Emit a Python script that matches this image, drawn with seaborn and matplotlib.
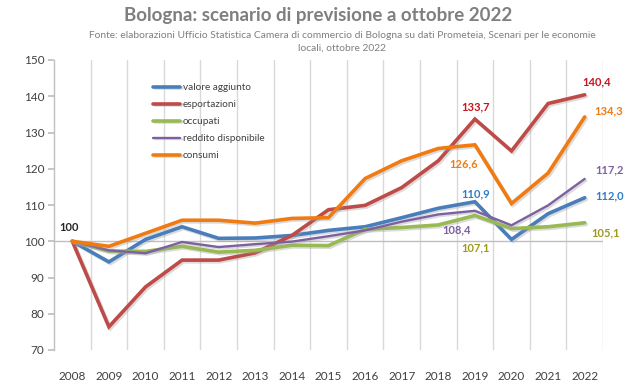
import pandas as pd
import matplotlib.pyplot as plt
import matplotlib.patheffects as pe
from matplotlib.ticker import FixedLocator
import seaborn as sns

# Data (index 2008 = 100)
anni = list(range(2008, 2023))
valore_aggiunto = [100, 94.3, 100.5, 104.0, 100.8, 100.9, 101.6, 103.0, 104.0, 106.5, 109.1, 110.9, 100.5, 107.6, 112.0]
esportazioni = [100, 76.4, 87.4, 94.8, 94.8, 96.8, 101.6, 108.7, 109.9, 114.8, 122.2, 133.7, 124.9, 138.0, 140.4]
occupati = [100, 97.3, 97.2, 98.6, 97.0, 97.5, 98.9, 98.8, 103.3, 103.8, 104.5, 107.1, 103.5, 104.0, 105.1]
reddito = [100, 97.5, 96.7, 99.8, 98.4, 99.2, 99.9, 101.4, 103.0, 105.4, 107.4, 108.4, 104.4, 109.9, 117.2]
consumi = [100, 98.6, 102.2, 105.8, 105.8, 105.0, 106.3, 106.5, 117.3, 122.2, 125.6, 126.6, 110.4, 118.8, 134.3]

serie = ["valore aggiunto", "esportazioni", "occupati", "reddito disponibile", "consumi"]
valori = [valore_aggiunto, esportazioni, occupati, reddito, consumi]
colori_linee = ["#4A7EBB", "#BE4B48", "#98B954", "#7D60A0", "#F07B12"]
spessori = [2.6, 2.6, 2.6, 1.7, 2.6]

df = pd.DataFrame({
    "anno": anni * len(serie),
    "valore": sum(valori, []),
    "serie": [s for s in serie for _ in anni],
})

# labels: (series, year, text, colour, offset in pixels)
etichette = [
    ("esportazioni", 2008, "100", "#262626", (-3, 14)),
    ("esportazioni", 2019, "133,7", "#C8141E", (1, 12)),
    ("esportazioni", 2022, "140,4", "#C8141E", (12, 13)),
    ("consumi", 2022, "134,3", "#F07B12", (24, 6)),
    ("consumi", 2019, "126,6", "#F07B12", (-11, -19)),
    ("valore aggiunto", 2019, "110,9", "#2E7CC4", (1, 8)),
    ("reddito disponibile", 2022, "117,2", "#7D60A0", (25, 9)),
    ("valore aggiunto", 2022, "112,0", "#2E7CC4", (25, 2)),
    ("reddito disponibile", 2019, "108,4", "#7D60A0", (-18, -19)),
    ("occupati", 2019, "107,1", "#9C9A1E", (1, -32)),
    ("occupati", 2022, "105,1", "#9C9A1E", (21, -10)),
]

sns.set_theme(style="white")
plt.rcParams["font.family"] = ["Lato", "DejaVu Sans"]

fig = plt.figure(figsize=(6.35, 3.85), dpi=100)
ax = fig.add_axes([54 / 635, 1 - 350 / 385, (603 - 54) / 635, 290 / 385])

shadow = [pe.SimpleLineShadow(offset=(1.2, -1.2), shadow_color="#999999", alpha=0.35), pe.Normal()]
for s, c, lw in zip(serie, colori_linee, spessori):
    sns.lineplot(data=df[df["serie"] == s], x="anno", y="valore", color=c, linewidth=lw,
                 label=s, ax=ax, path_effects=shadow, solid_joinstyle="miter")

ax.set_xlim(2007.5, 2022.5)
ax.set_ylim(70, 150)
ax.set_yticks(range(70, 151, 10))
ax.set_xticks(anni)
ax.xaxis.set_minor_locator(FixedLocator([a + 0.5 for a in anni]))
ax.grid(False)
ax.grid(axis="x", which="minor", color="#d9d9d9", linewidth=1)
ax.axhline(100, color="#bfbfbf", linewidth=1, zorder=1)
ax.set_xlabel("")
ax.set_ylabel("")

for side in ["top", "right", "bottom"]:
    ax.spines[side].set_visible(False)
ax.spines["left"].set_color("#bfbfbf")
ax.spines["left"].set_linewidth(1)
ax.tick_params(axis="y", which="major", left=True, length=4, color="#bfbfbf", labelsize=8.5,
               labelcolor="#404040", pad=3)
ax.tick_params(axis="x", which="both", bottom=False, labelsize=8.5, labelcolor="#404040", pad=9)

for s, anno, testo, col, (dx, dy) in etichette:
    v = valori[serie.index(s)][anni.index(anno)]
    ax.annotate(testo, (anno, v), xytext=(dx, dy), textcoords="offset pixels",
                ha="center", va="center", fontsize=8, fontweight="bold", color=col)

leg = ax.legend(loc="upper left", bbox_to_anchor=((153 - 54) / 549, (350 - 83) / 290),
                frameon=False, fontsize=7.2, handlelength=2.7, handletextpad=0.3,
                labelspacing=0.8, borderaxespad=0, borderpad=0)
for t in leg.get_texts():
    t.set_color("#404040")

fig.text(318 / 635, 1 - 15 / 385, "Bologna: scenario di previsione a ottobre 2022",
         ha="center", va="center", fontsize=13.5, fontweight="bold", color="#7f7f7f")
fig.text(342 / 635, 1 - 35 / 385,
         "Fonte: elaborazioni Ufficio Statistica Camera di commercio di Bologna su dati Prometeia, Scenari per le economie",
         ha="center", va="center", fontsize=7.4, color="#7f7f7f")
fig.text(342 / 635, 1 - 48.5 / 385, "locali, ottobre 2022",
         ha="center", va="center", fontsize=7.4, color="#7f7f7f")

fig.savefig("out.png", dpi=100)
